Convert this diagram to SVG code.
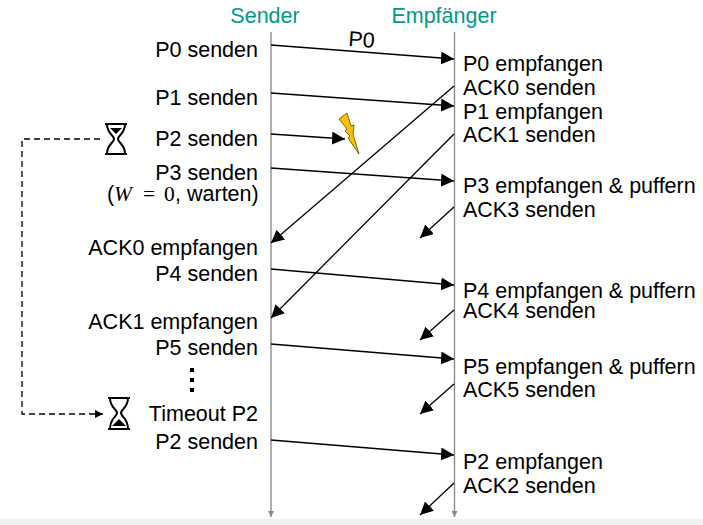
<svg xmlns="http://www.w3.org/2000/svg" width="703" height="525" viewBox="0 0 703 525">
<defs>
<style>
text{font-family:"Liberation Sans",Arial,sans-serif;font-size:21.500px;fill:#000}
.r{text-anchor:end}
.h{fill:#009b84}
.m{font-family:"Liberation Serif",serif}
.l{fill:none;stroke:#000;stroke-width:1.3}
.a{fill:none;stroke:#8c8c8c;stroke-width:1.4}
.g{fill:#fff;stroke:#000;stroke-width:2}
</style>
<marker id="ah" viewBox="0 0 12 12" refX="12" refY="6" markerWidth="13" markerHeight="13" markerUnits="userSpaceOnUse" orient="auto"><path d="M0 0L12 6L0 12z" fill="#000"/></marker>
<marker id="sh" viewBox="0 0 8 8" refX="8" refY="4" markerWidth="8" markerHeight="8" markerUnits="userSpaceOnUse" orient="auto"><path d="M0 0L8 4L0 8z" fill="#000"/></marker>
<marker id="gh" viewBox="0 0 6 6" refX="6" refY="3" markerWidth="6" markerHeight="6" markerUnits="userSpaceOnUse" orient="auto"><path d="M0 0L6 3L0 6z" fill="#8c8c8c"/></marker>
</defs>
<rect width="703" height="525" fill="#fff"/>
<rect y="519" width="703" height="6" fill="#f0f0f0"/>
<g id="lifelines">
<path class="a" d="M271 32V517" marker-end="url(#gh)"/>
<path class="a" d="M454.500 32V517" marker-end="url(#gh)"/>
</g>
<g id="connectors">
<path class="l" marker-end="url(#ah)" d="M271 45L454 59"/>
<path class="l" marker-end="url(#ah)" d="M271 93L454 106"/>
<path class="l" marker-end="url(#ah)" d="M271 134L345 139"/>
<path class="l" marker-end="url(#ah)" d="M271 168L454 181"/>
<path class="l" marker-end="url(#ah)" d="M454 86L271 243"/>
<path class="l" marker-end="url(#ah)" d="M454 134L271 318"/>
<path class="l" marker-end="url(#ah)" d="M454 207L420 238"/>
<path class="l" marker-end="url(#ah)" d="M271 269L454 285"/>
<path class="l" marker-end="url(#ah)" d="M454 310L420 340"/>
<path class="l" marker-end="url(#ah)" d="M271 344L454 359"/>
<path class="l" marker-end="url(#ah)" d="M454 384L420 414"/>
<path class="l" marker-end="url(#ah)" d="M271 440L454 455"/>
<path class="l" marker-end="url(#ah)" d="M454 483L420 515"/>
<path fill="none" stroke="#000" stroke-width="1.300" stroke-dasharray="6 4" d="M100 139H22V414H103" marker-end="url(#sh)"/>
</g>
<g id="sender-header"><text class="h" x="265" y="23" text-anchor="middle">Sender</text></g>
<g id="receiver-header"><text class="h" x="444" y="23" text-anchor="middle">Empfänger</text></g>
<g id="label-p0"><text x="361" y="47" text-anchor="middle" transform="rotate(4 361 47)">P0</text></g>
<g id="sender-labels">
<text class="r" x="258" y="57">P0 senden</text>
<text class="r" x="258" y="105">P1 senden</text>
<text class="r" x="258" y="146">P2 senden</text>
<text class="r" x="258" y="180">P3 senden</text>
<text y="201"><tspan x="107">(</tspan><tspan x="114" class="m" font-style="italic">W</tspan><tspan x="143" class="m">=</tspan><tspan x="164" class="m">0</tspan><tspan x="175">,</tspan><tspan x="187">warten)</tspan></text>
<text class="r" x="258" y="255">ACK0 empfangen</text>
<text class="r" x="258" y="281">P4 senden</text>
<text class="r" x="258" y="329">ACK1 empfangen</text>
<text class="r" x="258" y="355">P5 senden</text>
<text class="r" x="258" y="421">Timeout P2</text>
<text class="r" x="258" y="449">P2 senden</text>
</g>
<g id="receiver-labels">
<text x="463" y="71">P0 empfangen</text>
<text x="463" y="95">ACK0 senden</text>
<text x="463" y="119">P1 empfangen</text>
<text x="463" y="142">ACK1 senden</text>
<text x="463" y="193">P3 empfangen &amp; puffern</text>
<text x="463" y="217">ACK3 senden</text>
<text x="463" y="298">P4 empfangen &amp; puffern</text>
<text x="463" y="318">ACK4 senden</text>
<text x="463" y="374">P5 empfangen &amp; puffern</text>
<text x="463" y="397">ACK5 senden</text>
<text x="463" y="469">P2 empfangen</text>
<text x="463" y="493">ACK2 senden</text>
</g>
<g id="ellipsis" fill="#000">
<rect x="190" y="368" width="4" height="4"/><rect x="190" y="378" width="4" height="4"/><rect x="190" y="388" width="4" height="4"/>
</g>
<g id="hourglass-top">
<path class="g" d="M105 124H127M105 154H127M107 124C107 134 114 135 114 139C114 143 107 144 107 154M125 124C125 134 118 135 118 139C118 143 125 144 125 154"/>
<path d="M110 128H122L116 134z" fill="#000"/>
</g>
<g id="hourglass-bottom">
<path class="g" d="M108 398H130M108 429H130M110 398C110 408 117 409 117 413C117 417 110 418 110 429M128 398C128 408 121 409 121 413C121 417 128 418 128 429"/>
<path d="M112 426H126L119 419z" fill="#000"/>
</g>
<g id="lightning">
<path d="M339 119L347 113L351 126L354 125L353 134L359 154L348 138L350 136L345 131L347 129z" fill="#ffc000" stroke="#5a4500" stroke-width="0.800"/>
</g>
</svg>
